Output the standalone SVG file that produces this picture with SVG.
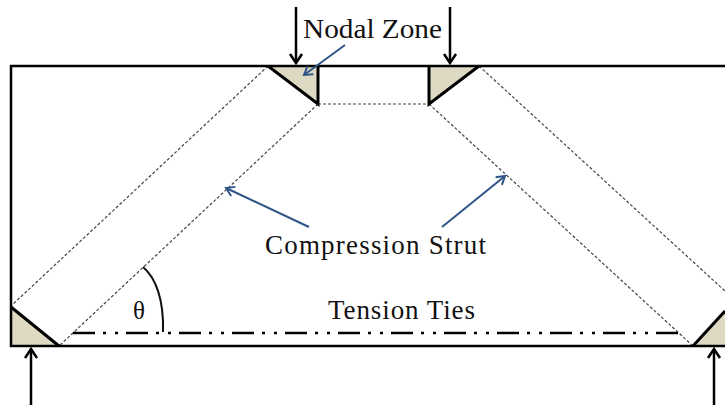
<svg xmlns="http://www.w3.org/2000/svg" width="725" height="406" viewBox="0 0 725 406">
<defs>
<marker id="blk" markerUnits="userSpaceOnUse" markerWidth="16" markerHeight="16" refX="12" refY="8" orient="auto"><path d="M3 2 L12 8 L3 14" fill="none" stroke="#000" stroke-width="2.5"/></marker>
<marker id="blu" markerUnits="userSpaceOnUse" markerWidth="14" markerHeight="14" refX="11" refY="7" orient="auto"><path d="M3 2 L11 7 L3 12" fill="none" stroke="#2f5587" stroke-width="2"/></marker>
</defs>
<style>
.t{font-family:"Liberation Serif",serif;font-size:27px;fill:#111}
.nz{fill:#ddd9c3;stroke:none}
.edge{fill:none;stroke:#000;stroke-width:3;stroke-linejoin:miter}
.dash{fill:none;stroke:#444;stroke-width:1.2;stroke-dasharray:3 2}
.force{fill:none;stroke:#000;stroke-width:2.5;marker-end:url(#blk)}
.note{fill:none;stroke:#2f5587;stroke-width:2;marker-end:url(#blu)}
</style>
<rect width="725" height="406" fill="#fff"/>
<g id="struts">
<path class="dash" d="M268 66 L11 306"/>
<path class="dash" d="M318 104 L59 346"/>
<path class="dash" d="M318 104 L429 104"/>
<path class="dash" d="M479 66 L725 291"/>
<path class="dash" d="M429 104 L693 346"/>
</g>
<g id="node-top-left"><path class="nz" d="M268 66 L318 66 L318 104 Z"/><path class="edge" d="M268 66 L318 104 L318 66"/></g>
<g id="node-top-right"><path class="nz" d="M429 66 L479 66 L429 104 Z"/><path class="edge" d="M479 66 L429 104 L429 66"/></g>
<g id="node-bottom-left"><path class="nz" d="M11 307 L59 346 L11 346 Z"/><path class="edge" d="M11 307 L59 346"/></g>
<g id="node-bottom-right"><path class="nz" d="M725 311 L693 346 L725 346 Z"/><path class="edge" d="M725 311 L693 346"/></g>
<g id="beam"><path fill="none" stroke="#000" stroke-width="2.5" d="M725 66 L11 66 L11 346 L725 346"/></g>
<g id="connectors">
<path class="force" d="M296 7 L296 63"/>
<path class="force" d="M450 7 L450 63"/>
<path class="force" d="M31 405 L31 349"/>
<path class="force" d="M714 405 L714 349"/>
<path class="note" d="M345 45 L304 75"/>
<path class="note" d="M309 227 L226 188"/>
<path class="note" d="M442 227 L505 176"/>
<path d="M73 333 L678 333" fill="none" stroke="#000" stroke-width="2.5" stroke-dasharray="22 8 3 9 3 8"/>
<path d="M143 267 C156 278 164 300 163 332" fill="none" stroke="#111" stroke-width="2"/>
</g>
<text class="t" x="303" y="38" textLength="139" lengthAdjust="spacingAndGlyphs">Nodal Zone</text>
<text class="t" x="265" y="254" textLength="221" lengthAdjust="spacing">Compression Strut</text>
<text class="t" x="328" y="319" textLength="147" lengthAdjust="spacing">Tension Ties</text>
<text class="t" x="133" y="319" style="font-size:25px">θ</text>
</svg>
